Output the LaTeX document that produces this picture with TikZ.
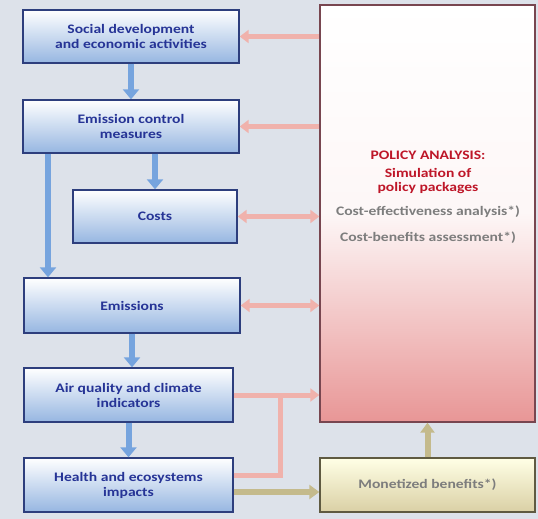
\documentclass[tikz,border=0pt]{standalone}
\usepackage{fontspec}
\setmainfont{Carlito}[FakeStretch=1.2]
\usepackage{tikz}
\usetikzlibrary{arrows.meta}

\definecolor{bgcol}{RGB}{221,226,234}
\definecolor{boxblue}{RGB}{150,182,225}
\definecolor{boxedge}{RGB}{45,62,125}
\definecolor{txtblue}{RGB}{38,52,150}
\definecolor{arrblue}{RGB}{118,164,222}
\definecolor{arrpink}{RGB}{240,178,172}
\definecolor{polpink}{RGB}{232,150,150}
\definecolor{poledge}{RGB}{120,70,80}
\definecolor{txtred}{RGB}{190,22,40}
\definecolor{txtgray}{RGB}{125,125,125}
\definecolor{monfill}{RGB}{218,208,165}
\definecolor{monedge}{RGB}{95,90,65}
\definecolor{arrolive}{RGB}{196,186,140}

\tikzset{
  stage/.style={draw=boxedge, line width=1.4pt, top color=white, bottom color=boxblue,
    text=txtblue, font=\bfseries\fontsize{13}{15}\selectfont, align=center},
  bluearrow/.style={draw=arrblue, line width=6pt, -{Triangle[width=16pt,length=10pt]}},
  pinkarrow/.style={draw=arrpink, line width=5pt, -{Triangle[width=13pt,length=9pt]}},
  pinkline/.style={draw=arrpink, line width=5pt},
  olivearrow/.style={draw=arrolive, line width=6pt, -{Triangle[width=14pt,length=10pt]}},
}

\begin{document}
\begin{tikzpicture}[x=1pt, y=-1pt]
\useasboundingbox[fill=bgcol] (0,0) rectangle (538,519);

% Left column of stages
\node[stage, minimum width=216pt, minimum height=53pt] (social) at (131,36.5)
  {Social development\\and economic activities};
\node[stage, minimum width=216pt, minimum height=53pt] (control) at (131,126.5)
  {Emission control\\measures};
\node[stage, minimum width=164pt, minimum height=53pt] (costs) at (155,216.5) {Costs};
\node[stage, minimum width=216pt, minimum height=55pt] (emis) at (132,305.5) {Emissions};
\node[stage, minimum width=209pt, minimum height=54pt] (air) at (128.5,395)
  {Air quality and climate\\indicators};
\node[stage, minimum width=209pt, minimum height=54pt] (health) at (128.5,485)
  {Health and ecosystems\\impacts};

% Policy box and benefits
\node[draw=poledge, line width=1.4pt, minimum width=215pt, minimum height=417pt,
  top color=white, bottom color=polpink, middle color=white!92!polpink] (policy) at (427.5,213.5) {};
\node[draw=monedge, line width=1.4pt, minimum width=215pt, minimum height=54pt,
  top color=white!90!yellow, bottom color=monfill, text=txtgray,
  font=\bfseries\fontsize{13}{15}\selectfont] (money) at (427.5,485) {Monetized benefits*)};

% Texts in the policy box
\node[text=txtred, font=\bfseries\fontsize{13}{15}\selectfont] (title) at (428,155) {POLICY ANALYSIS:};
\node[text=txtred, font=\bfseries\fontsize{13}{14}\selectfont, align=center] (sim) at (428,181)
  {Simulation of\\policy packages};
\node[text=txtgray, font=\bfseries\fontsize{13}{15}\selectfont] (cea) at (428,212)
  {Cost-effectiveness analysis*)};
\node[text=txtgray, font=\bfseries\fontsize{13}{15}\selectfont] (cba) at (428,238)
  {Cost-benefits assessment*)};

% Blue arrows down the chain
\draw[bluearrow] (social.south) -- (control.north);
\draw[bluearrow] (control.south -| costs.north) -- (costs.north);
\draw[bluearrow] ([xshift=-83pt]control.south) coordinate (cl) -- (cl |- emis.north);
\draw[bluearrow] (emis.south) -- (emis.south |- air.north);
\draw[bluearrow] (air.south) -- (health.north);

% Pink arrows to and from the policy box
\draw[pinkarrow] (policy.west |- social.east) -- (social.east);
\draw[pinkarrow] (policy.west |- control.east) -- (control.east);
\draw[pinkarrow, {Triangle[width=13pt,length=9pt]}-{Triangle[width=13pt,length=9pt]}]
  (costs.east) -- (policy.west |- costs.east);
\draw[pinkarrow, {Triangle[width=13pt,length=9pt]}-{Triangle[width=13pt,length=9pt]}]
  (emis.east) -- (policy.west |- emis.east);
\draw[pinkarrow] (air.east) -- (policy.west |- air.east);
\coordinate (join) at (280,395);
\draw[pinkline] ([yshift=10pt]health.east) -| (join);

% Benefits
\draw[olivearrow] ([yshift=-7pt]health.east) -- ([yshift=-7pt]money.west);
\draw[olivearrow] (money.north) -- (policy.south);
\end{tikzpicture}
\end{document}
